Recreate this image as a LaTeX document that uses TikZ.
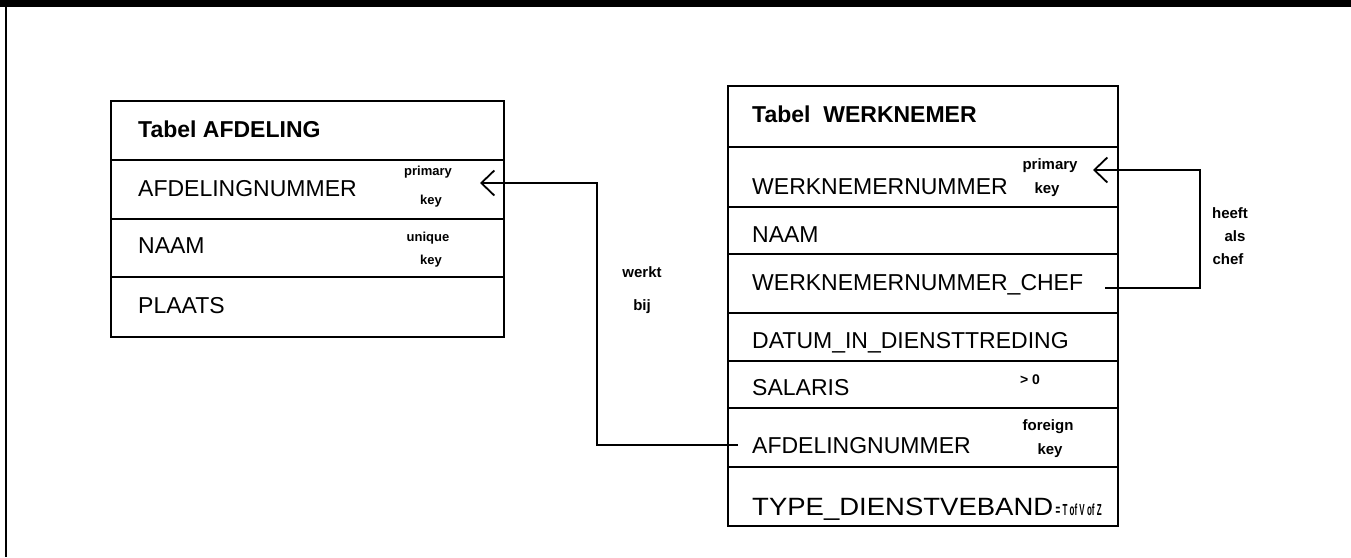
\documentclass[tikz,border=0pt]{standalone}
\usepackage{fontspec}
\setmainfont{Liberation Sans}
\usepackage{graphicx}
\usetikzlibrary{arrows.meta}
\begin{document}
\begin{tikzpicture}[x=1pt,y=-1pt,
  cell/.style={draw, line width=2.2pt, inner sep=0pt, anchor=north west},
  field/.style={anchor=base west, inner sep=0pt, font=\fontsize{23}{26}\selectfont},
  heading/.style={field, font=\fontsize{23}{26}\selectfont\bfseries},
  note/.style={inner sep=0pt, font=\fontsize{14}{16}\selectfont\bfseries},
  link/.style={line width=2pt},
  barb/.style={-{Straight Barb[length=13pt,width=25pt,line width=1.8pt]}}]

\useasboundingbox (0,0) rectangle (1351,557);

% page edge
\fill (0,0) rectangle (1351,7);
\draw[line width=2.5pt] (6,7) -- (6,557);

% ---- Tabel AFDELING ----
\node[cell, minimum width=393pt, minimum height=59pt] (a0) at (110,100) {};
\node[cell, minimum width=393pt, minimum height=59pt] (a1) at (110,159) {};
\node[cell, minimum width=393pt, minimum height=58pt] (a2) at (110,218) {};
\node[cell, minimum width=393pt, minimum height=60pt] (a3) at (110,276) {};

\node[heading] (a0t) at (138,137) {Tabel AFDELING};
\node[field] (a1t) at (138,196) {AFDELINGNUMMER};
\node[field] (a2t) at (138,253) {NAAM};
\node[field] (a3t) at (138,313) {PLAATS};

\node[note, font=\fontsize{13}{15}\selectfont\bfseries] (a1n1) at (428,172) {primary};
\node[note, font=\fontsize{13}{15}\selectfont\bfseries] (a1n2) at (431,201) {key};
\node[note, font=\fontsize{13}{15}\selectfont\bfseries] (a2n1) at (428,238) {unique};
\node[note, font=\fontsize{13}{15}\selectfont\bfseries] (a2n2) at (431,261) {key};

% ---- Tabel WERKNEMER ----
\node[cell, minimum width=390pt, minimum height=61pt] (w0) at (727,85) {};
\node[cell, minimum width=390pt, minimum height=60pt] (w1) at (727,146) {};
\node[cell, minimum width=390pt, minimum height=47pt] (w2) at (727,206) {};
\node[cell, minimum width=390pt, minimum height=59pt] (w3) at (727,253) {};
\node[cell, minimum width=390pt, minimum height=48pt] (w4) at (727,312) {};
\node[cell, minimum width=390pt, minimum height=47pt] (w5) at (727,360) {};
\node[cell, minimum width=390pt, minimum height=59pt] (w6) at (727,407) {};
\node[cell, minimum width=390pt, minimum height=59pt] (w7) at (727,466) {};

\node[heading] (w0t) at (752,122) {Tabel\ \ WERKNEMER};
\node[field] (w1t) at (752,194) {WERKNEMERNUMMER};
\node[field] (w2t) at (752,242) {NAAM};
\node[field] (w3t) at (752,290) {WERKNEMERNUMMER\_CHEF};
\node[field] (w4t) at (752,348) {DATUM\_IN\_DIENSTTREDING};
\node[field] (w5t) at (752,395) {SALARIS};
\node[field] (w6t) at (752,453) {AFDELINGNUMMER};
\node[field, font=\fontsize{25}{28}\selectfont] (w7t) at (752,515)
  {\scalebox{1.1}[1]{TYPE\_DIENSTVEBAND}};
\node[note, anchor=base west, font=\fontsize{16}{18}\selectfont\bfseries] (w7n) at ([xshift=2pt]w7t.base east)
  {\scalebox{0.5}[1]{= T of V of Z}};

\node[note, font=\fontsize{15}{17}\selectfont\bfseries] (w1n1) at (1050,166) {primary};
\node[note, font=\fontsize{15}{17}\selectfont\bfseries] (w1n2) at (1047,190) {key};
\node[note] (w5n) at (1030,380) {> 0};
\node[note, font=\fontsize{15}{17}\selectfont\bfseries] (w6n1) at (1048,427) {foreign};
\node[note, font=\fontsize{15}{17}\selectfont\bfseries] (w6n2) at (1050,451) {key};

% ---- relationships ----
\coordinate (fkAfd) at (738,445);
\coordinate (pkAfd) at (480,183);
\coordinate (laneAfd) at (597,300);
\draw[link, barb] (fkAfd) -| (laneAfd) |- (pkAfd);
\node[note, font=\fontsize{15}{17}\selectfont\bfseries] (werkt) at (642,272) {werkt};
\node[note, font=\fontsize{15}{17}\selectfont\bfseries] (bij) at (642,307) {bij};

\coordinate (fkChef) at (1105,288);
\coordinate (pkWn) at (1093,170);
\coordinate (laneChef) at (1200,230);
\draw[link, barb] (fkChef) -| (laneChef) |- (pkWn);
\node[note, font=\fontsize{15}{17}\selectfont\bfseries] (heeft) at (1230,213) {heeft};
\node[note, font=\fontsize{15}{17}\selectfont\bfseries] (als) at (1235,236) {als};
\node[note, font=\fontsize{15}{17}\selectfont\bfseries] (chef) at (1228,259) {chef};
\end{tikzpicture}
\end{document}
